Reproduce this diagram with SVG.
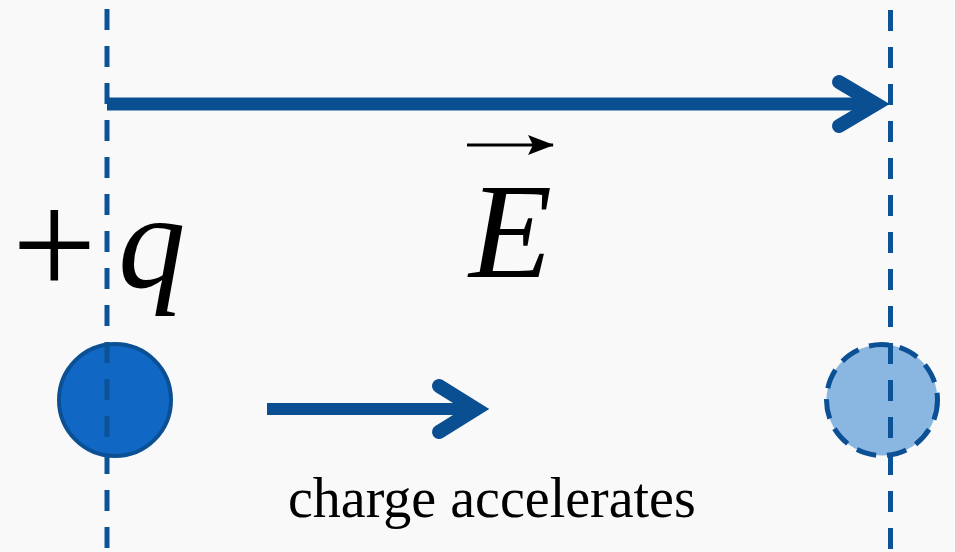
<svg xmlns="http://www.w3.org/2000/svg" width="955" height="552" viewBox="0 0 955 552">
<style>
.guide{stroke:#0b5296;stroke-width:5;stroke-dasharray:21 16;fill:none}
.shaft{stroke:#0a4f92;fill:none;stroke-linecap:butt}
.head{stroke:#0a4f92;fill:none;stroke-linecap:round;stroke-linejoin:miter;stroke-miterlimit:10;stroke-width:14}
.math{font-family:"Liberation Serif","Times New Roman",serif;fill:#000}
.label{font-family:"Liberation Serif","Times New Roman",serif;font-size:56px;fill:#000}
</style>
<defs>
<marker id="vec" viewBox="0 0 26 20" refX="25" refY="10" markerWidth="26" markerHeight="20" markerUnits="userSpaceOnUse" orient="auto">
<path d="M0,0 L26,10 L0,20 L5,10 Z" fill="#000"/>
</marker>
</defs>
<rect width="955" height="552" fill="#f9f9f9"/>
<g id="charge-start">
<circle cx="115" cy="400" r="56" fill="#1167c4" stroke="#0b4f94" stroke-width="4"/>
</g>
<g id="charge-end">
<circle cx="882" cy="400" r="55.5" fill="#8ab6e2" stroke="#0b4f94" stroke-width="5" stroke-dasharray="20 11"/>
</g>
<g id="connectors">
<line class="guide" x1="107" y1="9" x2="107" y2="552"/>
<line class="guide" x1="890.5" y1="10" x2="890.5" y2="552"/>
<line class="shaft" x1="107" y1="104" x2="876" y2="104" stroke-width="13"/>
<polyline class="head" points="839,82 876,104 839,126"/>
<line class="shaft" x1="267" y1="409" x2="476" y2="409" stroke-width="12"/>
<polyline class="head" points="439,386 476,409 439,432"/>
</g>
<g id="field-label">
<line x1="467" y1="145" x2="553" y2="145" stroke="#000" stroke-width="3" marker-end="url(#vec)"/>
<text class="math" x="469" y="277" font-size="136" font-style="italic">E</text>
</g>
<g id="charge-label">
<text class="math" x="12" y="295" font-size="150">+</text>
<text class="math" x="118" y="287" font-size="135" font-style="italic">q</text>
</g>
<text class="label" x="288" y="517">charge accelerates</text>
</svg>
